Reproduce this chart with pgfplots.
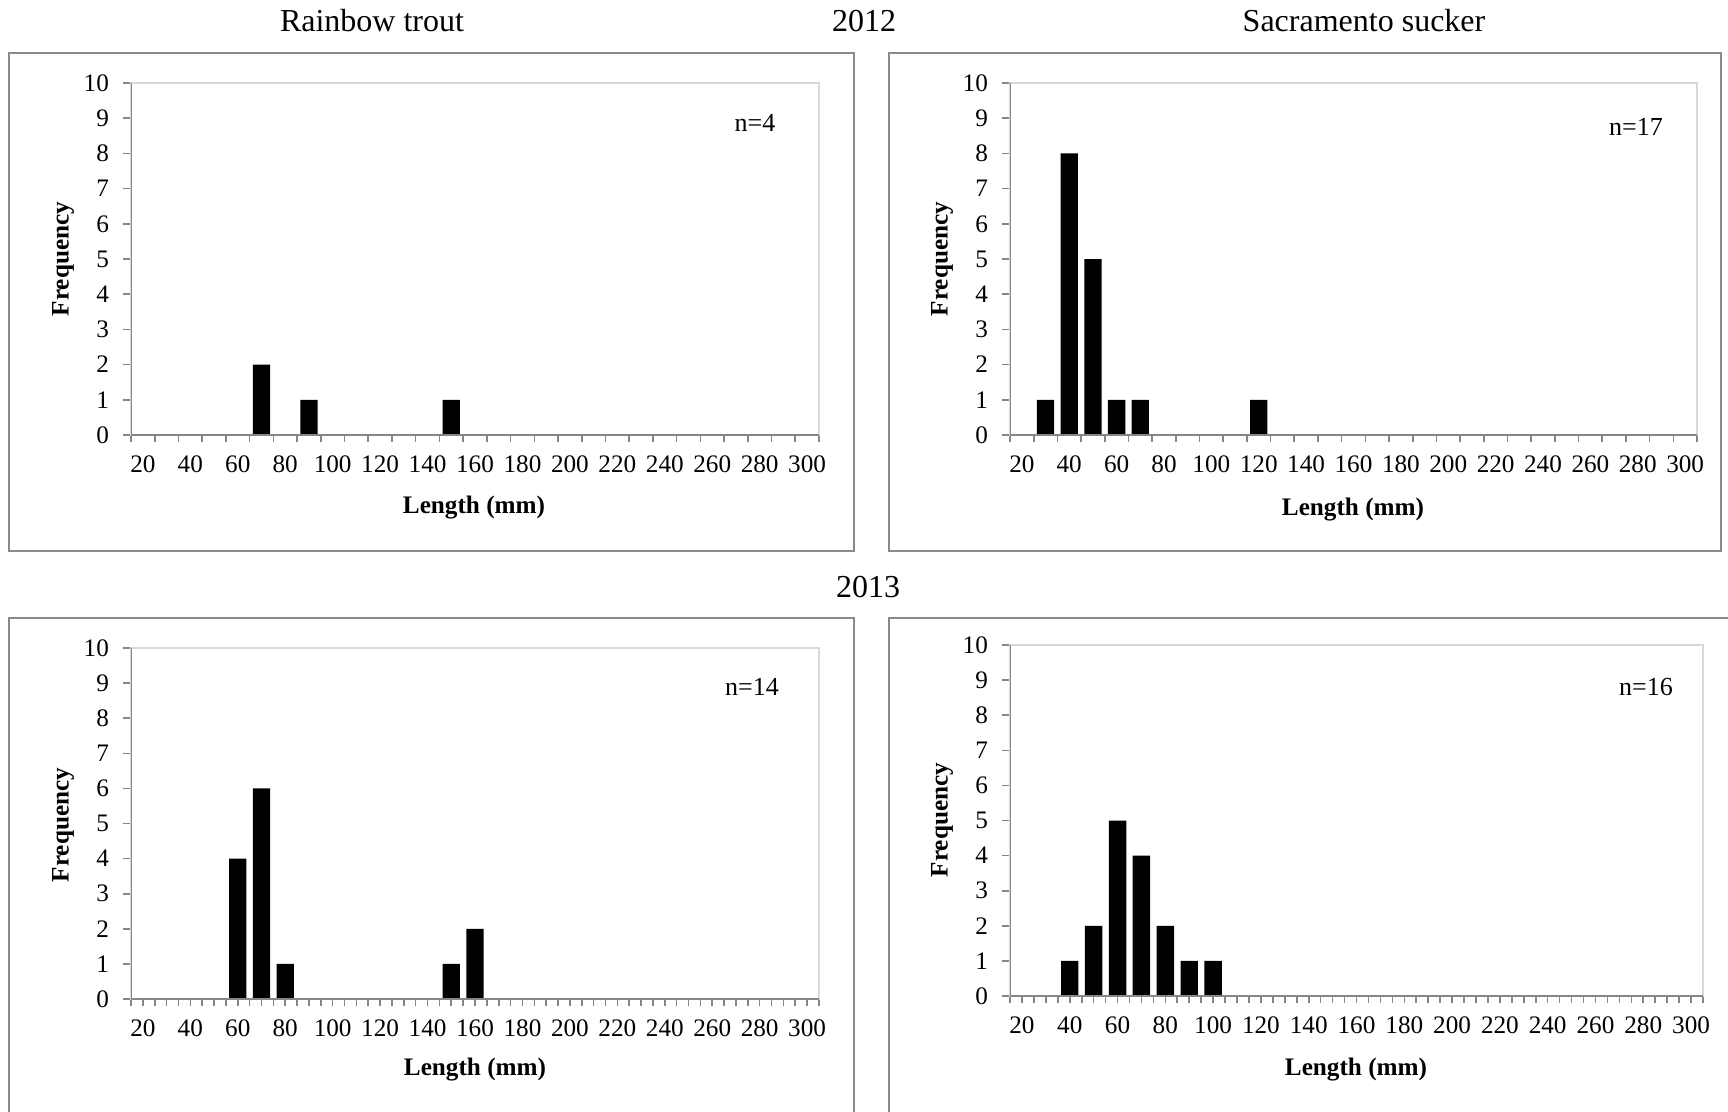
\documentclass[border=0pt]{standalone}
\usepackage{fontspec}
\setmainfont{Liberation Serif}
\usepackage{pgfplots}
\pgfplotsset{compat=1.18}
\definecolor{axgray}{HTML}{868686}
\definecolor{lightgr}{HTML}{D9D9D9}
\definecolor{framegr}{HTML}{8A8A8A}
\pgfplotsset{
  hist/.style={
    scale only axis,
    xmin=15, xmax=305, ymin=0, ymax=10,
    ytick={0,...,10},
    xtick={20,40,...,300},
    /pgf/number format/assume math mode=true,
    /pgf/number format/1000 sep={},
    tick label style={font=\fontsize{12.6}{14}\selectfont},
    tick pos=left, tick align=outside,
    major tick length=4pt,
    minor tick length=3.3pt,
    tick style={axgray, line width=0.8pt},
    major x tick style={draw=none},
    axis line style={draw=lightgr, line width=0.6pt},
    xticklabel shift=3pt,
    yticklabel shift=3.5pt,
    ybar, bar shift=0pt, bar width=7.3,
  },
  histbar/.style={fill=black, draw=none},
}
\begin{document}
\begin{tikzpicture}
\useasboundingbox (0pt,0pt) rectangle (864pt,-556pt);
\clip (0pt,0pt) rectangle (864pt,-556pt);

% Rainbow trout 2012
\begin{axis}[hist, at={(65.5pt,-217.5pt)}, anchor=south west,
  width=344pt, height=176pt, minor xtick={15,25,...,305}]
\addplot[histbar] coordinates {(70,2) (90,1) (150,1)};
\draw[axgray, line width=0.8pt] (rel axis cs:0,1) -- (rel axis cs:0,0) -- (rel axis cs:1,0);
\end{axis}

% Sacramento sucker 2012
\begin{axis}[hist, at={(505pt,-217.5pt)}, anchor=south west,
  width=343.5pt, height=176pt, minor xtick={15,25,...,305}]
\addplot[histbar] coordinates {(30,1) (40,8) (50,5) (60,1) (70,1) (120,1)};
\draw[axgray, line width=0.8pt] (rel axis cs:0,1) -- (rel axis cs:0,0) -- (rel axis cs:1,0);
\end{axis}

% Rainbow trout 2013
\begin{axis}[hist, at={(65.5pt,-499.5pt)}, anchor=south west,
  width=344pt, height=175.5pt, minor xtick={15,20,...,305}]
\addplot[histbar] coordinates {(60,4) (70,6) (80,1) (150,1) (160,2)};
\draw[axgray, line width=0.8pt] (rel axis cs:0,1) -- (rel axis cs:0,0) -- (rel axis cs:1,0);
\end{axis}

% Sacramento sucker 2013
\begin{axis}[hist, at={(505pt,-498pt)}, anchor=south west,
  width=346.5pt, height=175.5pt, minor xtick={15,20,...,305}]
\addplot[histbar] coordinates {(40,1) (50,2) (60,5) (70,4) (80,2) (90,1) (100,1)};
\draw[axgray, line width=0.8pt] (rel axis cs:0,1) -- (rel axis cs:0,0) -- (rel axis cs:1,0);
\end{axis}

\begin{scope}[x=0.5pt, y=-0.5pt]
  % frames
  \draw[framegr, line width=0.9pt] (9,53) rectangle (854,551);
  \draw[framegr, line width=0.9pt] (889,53) rectangle (1721,551);
  \draw[framegr, line width=0.9pt] (9,618) rectangle (854,1140);
  \draw[framegr, line width=0.9pt] (889,618) rectangle (1745,1140);
  % titles
  \begin{scope}[every node/.style={font=\fontsize{16}{19}\selectfont, inner sep=0pt, anchor=base}]
    \node at (372,32) {Rainbow trout};
    \node at (864,32) {2012};
    \node at (1364,32) {Sacramento sucker};
    \node at (868,597) {2013};
  \end{scope}
  % n labels
  \begin{scope}[every node/.style={font=\fontsize{13}{15}\selectfont, inner sep=0pt, anchor=base}]
    \node at (755,131.5) {n=4};
    \node at (1636,136) {n=17};
    \node at (752,695) {n=14};
    \node at (1646,695) {n=16};
  \end{scope}
  % axis labels
  \begin{scope}[every node/.style={font=\fontsize{12.6}{15}\bfseries, inner sep=0pt, anchor=center}]
    \node at (474,508) {Length (mm)};
    \node at (1353,510) {Length (mm)};
    \node at (475,1070) {Length (mm)};
    \node at (1356,1070) {Length (mm)};
    \node[rotate=90] at (63,259) {Frequency};
    \node[rotate=90] at (942,259) {Frequency};
    \node[rotate=90] at (63,825) {Frequency};
    \node[rotate=90] at (942,820) {Frequency};
  \end{scope}
\end{scope}
\end{tikzpicture}
\end{document}
